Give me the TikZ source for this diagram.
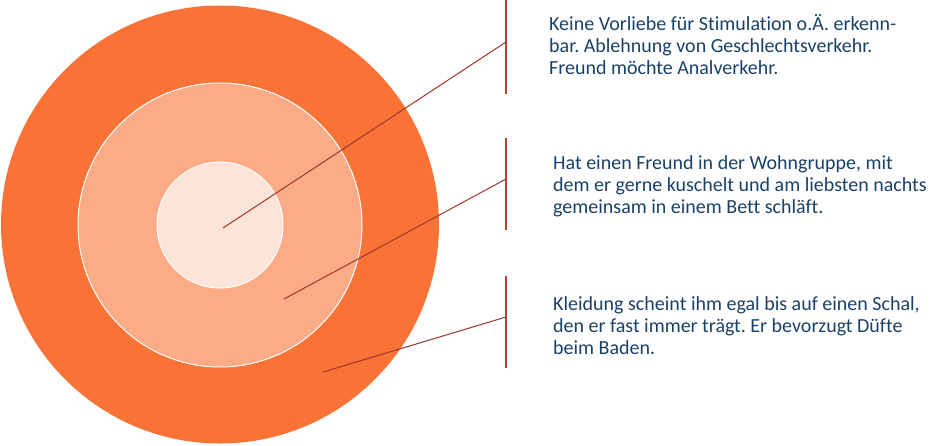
\documentclass[tikz,border=0pt]{standalone}
\usepackage{fontspec}
\setmainfont{Carlito}[Ligatures={NoCommon,TeX}]
\frenchspacing
\definecolor{ringout}{HTML}{F97336}
\definecolor{ringmid}{HTML}{FBAC87}
\definecolor{ringin}{HTML}{FDE4D8}
\definecolor{leader}{HTML}{A0342C}
\definecolor{barcol}{HTML}{B8433B}
\definecolor{txtcol}{HTML}{1A4168}
\begin{document}
\begin{tikzpicture}[x=1pt,y=-1pt,
  ring/.style={draw=white,line width=1pt},
  leaderline/.style={draw=leader,line width=1pt},
  barline/.style={draw=barcol,line width=1.3pt},
  note/.style={anchor=base west,align=left,inner sep=0pt,text=txtcol,
    font=\fontsize{20}{22}\selectfont}]
\useasboundingbox (0,0) rectangle (947,445);
\fill[ringout] (220,224.5) circle (219);
\path[ring,fill=ringmid] (220,225) circle (142);
\path[ring,fill=ringin] (220,225) circle (63);
% bars
\coordinate (b1t) at (506,0);   \coordinate (b1b) at (506,94);
\coordinate (b2t) at (506,138); \coordinate (b2b) at (506,230);
\coordinate (b3t) at (506,276); \coordinate (b3b) at (506,368);
\draw[barline] (b1t) -- (b1b);
\draw[barline] (b2t) -- (b2b);
\draw[barline] (b3t) -- (b3b);
% leader ends
\coordinate (p1) at (223,228); \coordinate (q1) at (506,42);
\coordinate (p2) at (284,299); \coordinate (q2) at (506,179);
\coordinate (p3) at (323,372); \coordinate (q3) at (506,317);
\draw[leaderline] (p1) -- (q1);
\draw[leaderline] (p2) -- (q2);
\draw[leaderline] (p3) -- (q3);
% texts (anchored at the baseline of the last line)
\node[note] (t1) at (549,74) {Keine Vorliebe für Stimulation o.Ä. erkenn-\\bar. Ablehnung von Geschlechtsverkehr.\\Freund möchte Analverkehr.};
\node[note] (t2) at (553,213) {Hat einen Freund in der Wohngruppe, mit\\dem er gerne kuschelt und am liebsten nachts\\gemeinsam in einem Bett schläft.};
\node[note] (t3) at (553,354) {Kleidung scheint ihm egal bis auf einen Schal,\\den er fast immer trägt. Er bevorzugt Düfte\\beim Baden.};
\end{tikzpicture}
\end{document}
